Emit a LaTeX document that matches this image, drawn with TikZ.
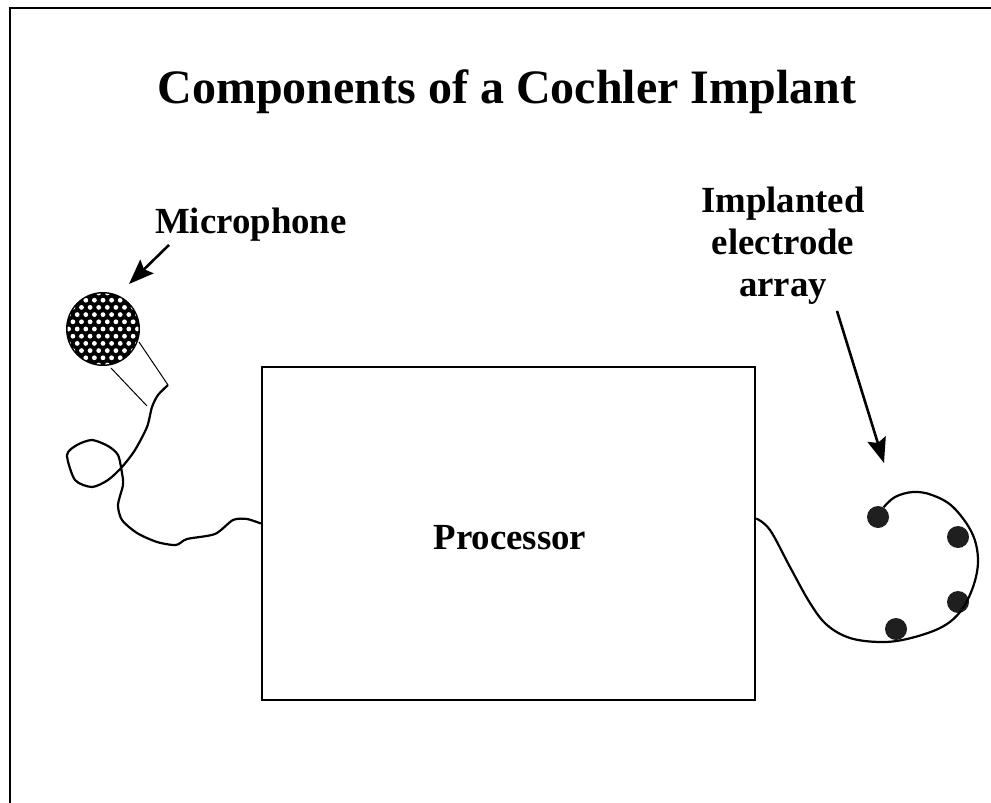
\documentclass[tikz,border=0pt]{standalone}
\usepackage{fontspec}
\setmainfont{Liberation Serif}
\usetikzlibrary{arrows.meta,positioning,calc}
\tikzset{
  label/.style={font=\fontsize{36.8}{42}\selectfont\bfseries, align=center, inner sep=0pt},
  titlelabel/.style={font=\fontsize{48}{54}\selectfont\bfseries, inner sep=0pt},
  procbox/.style={draw, line width=2.4pt, minimum width=493pt, minimum height=333pt, inner sep=0pt},
  electrode/.style={circle, fill=black!88, minimum size=22pt, inner sep=0pt},
  wire/.style={line width=2.2pt, line join=round},
  pointer/.style={-{Stealth[length=25pt,width=19pt,inset=4pt]}, line width=2.6pt}
}
\begin{document}
\begin{tikzpicture}[x=1pt, y=-1pt]
\useasboundingbox (0,0) rectangle (991,803);
% frame
\draw[line width=2.4pt] (10,803) -- (10,8) -- (991,8);
\node[titlelabel] (title) at (507,92) {Components of a Cochler Implant};
% microphone
\fill[black] (103,329) circle (37);
\begin{scope}
  \clip (103,329) circle (35.5);
  \foreach \i in {-6,...,6}
    \foreach \j in {-6,...,6}
      \fill[white] ({103+\i*8.6+mod(\j+6,2)*4.3},{329+\j*7.2}) circle (2.4);
\end{scope}
\draw[line width=1pt] (139,342) -- (168,385) (111,368) -- (147,406);
\coordinate (micend) at (168,385);
\coordinate (mictip) at (129,284);
\node[label] (miclabel) at (251,225) {Microphone};
\draw[pointer] ([xshift=14pt,yshift=-3pt]miclabel.south west) -- (mictip);
% processor
\node[procbox] (proc) at (508.5,533.5) {};
\node[label] (proclabel) at (510,538) {Processor};
\coordinate (procin) at ($(proc.west)+(0,-10)$);
\coordinate (procout) at ($(proc.east)+(0,-15)$);
\draw[wire] plot[smooth, tension=0.45] coordinates {(micend) (158,395) (152,407) (147,427) (135,450) (122,467) (108,480) (92,487) (75,480) (67,455) (77,445) (92,440) (108,446) (118,455) (122,473) (123,485) (118,505) (122,520) (137,533) (157,542) (176,545) (187,539) (215,534) (233,520) (247,519) (procin)};
% electrode array
\node[label] (arraylabel) at (783,246) {Implanted\\electrode\\array};
\coordinate (arraytip) at (884,463);
\draw[pointer] ([xshift=-28pt,yshift=-6pt]arraylabel.south east) -- (arraytip);
\foreach \name/\x/\y in {elec1/878/517,elec2/958/537,elec3/958/602,elec4/896/629}
  \node[electrode] (\name) at (\x,\y) {};
\draw[wire] plot[smooth, tension=0.6] coordinates {(procout) (770,530) (790,567) (810,603) (827,625) (850,638) (880,642) (907,639) (940,628) (960,612) (973,587) (978,560) (972,533) (953,507) (932,495) (913,492) (895,497) (elec1.60)};
\end{tikzpicture}
\end{document}
